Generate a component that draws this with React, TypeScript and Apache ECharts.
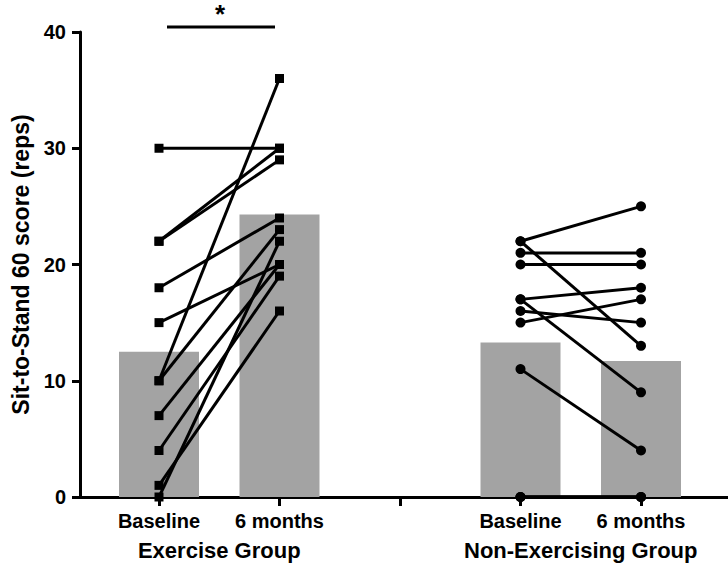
import React, { useEffect, useRef } from "react";
import * as echarts from "echarts";

// Tick label texts and positions on the x axis
const timeLabels = ["Baseline", "6 months", "", "Baseline", "6 months"];
const groupLabels = ["Exercise Group", "Non-Exercising Group"];
const yTicks = [0, 10, 20, 30, 40];

// Group means (bars)
const barMeans = [12.5, 24.3, 13.3, 11.7];

// Individual subjects: exercise group (squares)
const exBaseline = [30, 22, 22, 18, 15, 10, 10, 7, 4, 1, 0];
const exSixMonths = [30, 30, 29, 24, 20, 36, 23, 20, 19, 16, 22];

// Individual subjects: non-exercising group (circles)
const nonBaseline = [22, 22, 21, 20, 17, 17, 16, 15, 11, 0, 0, 0];
const nonSixMonths = [25, 13, 21, 20, 18, 9, 15, 17, 4, 0, 0, 0];

const FONT = "'Liberation Sans', Arial, Helvetica, sans-serif";

export default function App() {
  const ref = useRef<HTMLDivElement>(null);

  useEffect(() => {
    if (!ref.current) return;
    const chart = echarts.init(ref.current, null, { renderer: "svg" });

    const barPositions = [1, 2, 4, 5];
    const bars = barMeans.map((v, i) => [barPositions[i], v]);

    const subjectSeries: any[] = [];
    exBaseline.forEach((b, i) => {
      subjectSeries.push({
        type: "line",
        xAxisIndex: 0,
        yAxisIndex: 0,
        data: [
          [1, b],
          [2, exSixMonths[i]],
        ],
        symbol: "rect",
        symbolSize: 9,
        showSymbol: true,
        clip: false,
        lineStyle: { color: "#000", width: 3 },
        itemStyle: { color: "#000" },
        z: 5,
        silent: true,
      });
    });
    nonBaseline.forEach((b, i) => {
      subjectSeries.push({
        type: "line",
        xAxisIndex: 0,
        yAxisIndex: 0,
        data: [
          [4, b],
          [5, nonSixMonths[i]],
        ],
        symbol: "circle",
        symbolSize: 10,
        showSymbol: true,
        clip: false,
        lineStyle: { color: "#000", width: 3 },
        itemStyle: { color: "#000" },
        z: 5,
        silent: true,
      });
    });

    const xMin = 1 - 79 / 120.5;
    const xMax = 5 + 87 / 120.5;

    chart.setOption({
      animation: false,
      backgroundColor: "#fff",
      grid: { left: 80, right: 0, top: 32, bottom: 72, containLabel: false },
      xAxis: [
        {
          type: "value",
          min: xMin,
          max: xMax,
          axisLine: { show: true, onZero: false, lineStyle: { color: "#000", width: 3 } },
          axisTick: {
            show: true,
            customValues: [1, 2, 3, 4, 5],
            length: 9,
            lineStyle: { color: "#000", width: 3 },
          },
          axisLabel: {
            customValues: [1, 2, 4, 5],
            formatter: (v: number) => timeLabels[Math.round(v) - 1],
            color: "#000",
            fontFamily: FONT,
            fontWeight: "bold",
            fontSize: 20,
            margin: 14,
          },
          splitLine: { show: false },
        },
        {
          type: "value",
          position: "bottom",
          offset: 30,
          min: xMin,
          max: xMax,
          axisLine: { show: false },
          axisTick: { show: false },
          axisLabel: {
            customValues: [1.5, 4.5],
            formatter: (v: number) => (v < 3 ? groupLabels[0] : groupLabels[1]),
            color: "#000",
            fontFamily: FONT,
            fontWeight: "bold",
            fontSize: 22,
            margin: 12,
          },
          splitLine: { show: false },
        },
      ],
      yAxis: {
        type: "value",
        min: yTicks[0],
        max: yTicks[yTicks.length - 1],
        interval: 10,
        name: "Sit-to-Stand 60 score (reps)",
        nameLocation: "middle",
        nameGap: 46,
        nameTextStyle: {
          color: "#000",
          fontFamily: FONT,
          fontWeight: "bold",
          fontSize: 23,
        },
        axisLine: { show: true, lineStyle: { color: "#000", width: 3 } },
        axisTick: { show: true, length: 8, lineStyle: { color: "#000", width: 3 } },
        axisLabel: {
          color: "#000",
          fontFamily: FONT,
          fontWeight: "bold",
          fontSize: 20,
          margin: 14,
        },
        splitLine: { show: false },
      },
      series: [
        {
          type: "bar",
          xAxisIndex: 0,
          yAxisIndex: 0,
          data: bars,
          barWidth: 80,
          itemStyle: { color: "#a3a3a3" },
          z: 1,
          silent: true,
        },
        ...subjectSeries,
      ],
      graphic: [
        {
          type: "line",
          shape: { x1: 167, y1: 27, x2: 275, y2: 27 },
          style: { stroke: "#000", lineWidth: 3 },
        },
        {
          type: "text",
          x: 220,
          y: 14,
          style: {
            text: "*",
            fill: "#000",
            font: `bold 26px ${FONT}`,
            textAlign: "center",
            textVerticalAlign: "middle",
          },
        },
      ],
    });

    return () => chart.dispose();
  }, []);

  return (
    <div
      ref={ref}
      style={{ position: "absolute", left: 0, top: 0, width: 728, height: 569 }}
    />
  );
}
